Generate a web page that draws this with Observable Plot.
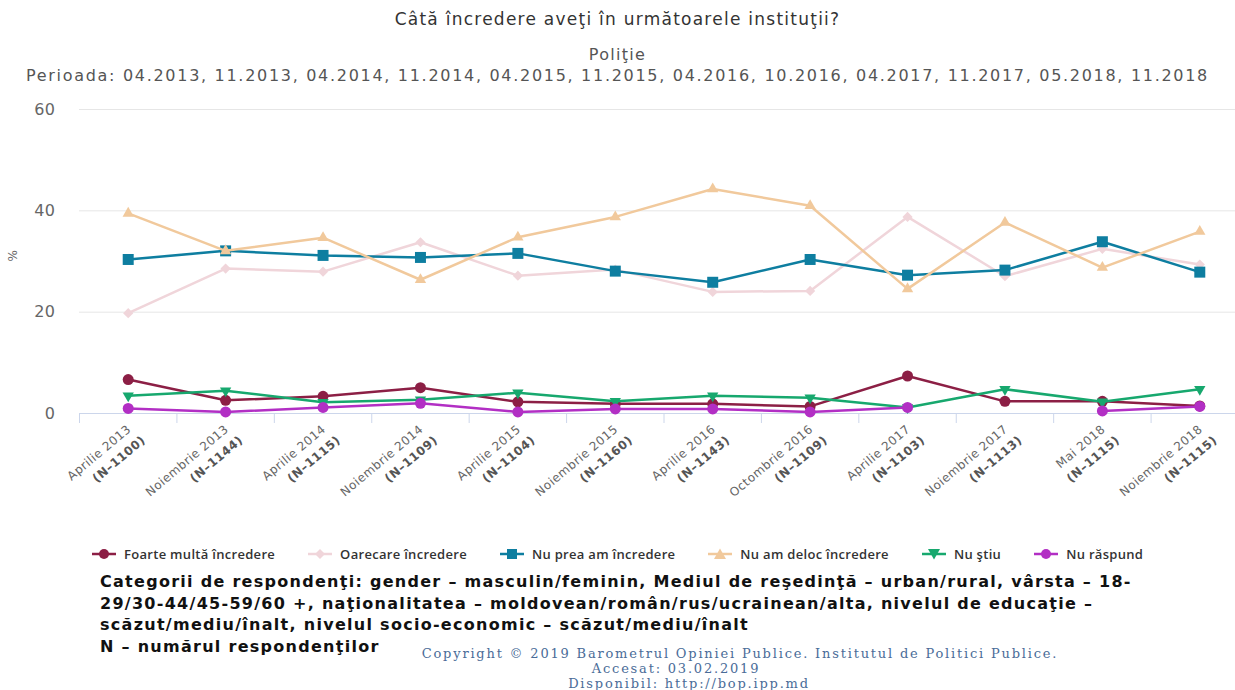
<!DOCTYPE html>
<html><head><meta charset="utf-8">
<script src="https://cdn.jsdelivr.net/npm/d3@7"></script>
<script src="https://cdn.jsdelivr.net/npm/@observablehq/plot@0.6"></script>
<style>
body{margin:0;background:#fff;width:1235px;height:690px;overflow:hidden;position:relative;font-family:"DejaVu Sans",sans-serif;}
.hd{position:absolute;left:0;width:1235px;text-align:center;white-space:nowrap;}
#title{top:8px;font-size:17px;color:#333;line-height:22px;letter-spacing:1.25px}
#sub1{top:45px;font-size:16px;color:#555;line-height:20px;letter-spacing:1.3px}
#sub2{top:66px;font-size:16px;color:#555;line-height:20px;letter-spacing:1.7px}
#chart{position:absolute;left:0;top:95px;width:1235px;height:445px;overflow:hidden}
#chart svg text{letter-spacing:0.5px}
#legend{position:absolute;left:92px;top:545px;display:flex;gap:33px;align-items:center;font-family:"Open Sans",sans-serif;font-weight:600;font-size:13px;letter-spacing:0.3px;color:#333;white-space:nowrap}
.li{display:flex;align-items:center;gap:8px}
#notes{position:absolute;left:100px;top:571px;font-weight:bold;font-size:16px;letter-spacing:1.28px;line-height:21.5px;color:#111;white-space:nowrap}
.cp{position:absolute;transform:translateX(-50%);font-family:"DejaVu Serif",serif;font-size:13px;letter-spacing:1.8px;color:#4a6c98;white-space:nowrap;line-height:15.2px}
</style></head><body>
<div class="hd" id="title">Câtă încredere aveţi în următoarele instituţii?</div>
<div class="hd" id="sub1">Poliţie</div>
<div class="hd" id="sub2">Perioada: 04.2013, 11.2013, 04.2014, 11.2014, 04.2015, 11.2015, 04.2016, 10.2016, 04.2017, 11.2017, 05.2018, 11.2018</div>
<div id="chart"></div>
<div id="legend"></div>
<div id="notes">Categorii de respondenţi: gender – masculin/feminin, Mediul de reşedinţă – urban/rural, vârsta – 18-<br>29/30-44/45-59/60 +, naţionalitatea – moldovean/român/rus/ucrainean/alta, nivelul de educaţie –<br>scăzut/mediu/înalt, nivelul socio-economic – scăzut/mediu/înalt<br>N – numărul respondenţilor</div>
<div class="cp" style="left:740px;top:646px">Copyright © 2019 Barometrul Opiniei Publice. Institutul de Politici Publice.</div>
<div class="cp" style="left:676px;top:661.2px">Accesat: 03.02.2019</div>
<div class="cp" style="left:689px;top:676.4px">Disponibil: http://bop.ipp.md</div>
<script>
const months = ["Aprilie 2013","Noiembrie 2013","Aprilie 2014","Noiembrie 2014","Aprilie 2015","Noiembrie 2015","Aprilie 2016","Octombrie 2016","Aprilie 2017","Noiembrie 2017","Mai 2018","Noiembrie 2018"];
const sampleN = ["(N–1100)","(N–1144)","(N–1115)","(N–1109)","(N–1104)","(N–1160)","(N–1143)","(N–1109)","(N–1103)","(N–1113)","(N–1115)","(N–1115)"];
const seriesNames = ["Foarte multă încredere","Oarecare încredere","Nu prea am încredere","Nu am deloc încredere","Nu ştiu","Nu răspund"];
const foarte    = [6.7,2.6,3.4,5.1,2.3,1.9,1.9,1.4,7.4,2.4,2.4,1.5];
const oarecare  = [19.8,28.6,28.0,33.8,27.2,28.4,24.0,24.2,38.8,27.1,32.5,29.4];
const nuPrea    = [30.4,32.1,31.2,30.8,31.6,28.1,25.9,30.4,27.3,28.3,33.9,27.9];
const deloc     = [39.5,32.1,34.7,26.4,34.8,38.8,44.3,41.0,24.6,37.7,28.8,35.9];
const nuStiu    = [3.5,4.5,2.2,2.7,4.1,2.4,3.5,3.1,1.2,4.8,2.3,4.8];
const nuRaspund = [1.0,0.3,1.2,2.0,0.3,0.9,0.9,0.3,1.2,null,0.5,1.4];
const yTicks = [0,20,40,60];
const yLabel = "%";

const seriesValues = [foarte, oarecare, nuPrea, deloc, nuStiu, nuRaspund];
const colors = ["#8c1f45","#f0d5da","#0e7ea0","#f1c99c","#17a86e","#b22fc4"];

const triangleDown = {
  draw(ctx, size) {
    const y = -Math.sqrt(size / (Math.sqrt(3) * 3));
    ctx.moveTo(0, -y * 2);
    ctx.lineTo(-Math.sqrt(3) * y, y);
    ctx.lineTo(Math.sqrt(3) * y, y);
    ctx.closePath();
  }
};
const symbols = ["circle","diamond2","square","triangle",triangleDown,"circle"];
const radii = [5.5,4.6,6.2,4.2,4.2,5.5];

const rows = [];
seriesValues.forEach((vals, s) => vals.forEach((v, i) => rows.push({i, s, v})));
const bounds = months.slice(0, months.length - 1).map((_, i) => i - 0.5).concat([months.length - 1.5]);

const marks = [
  Plot.ruleY(yTicks.filter(t => t > 0), {stroke: "#e6e6e6", strokeWidth: 1}),
  Plot.axisY({ticks: yTicks, tickSize: 0, tickPadding: 24, fontSize: 16, fill: "#666", label: null}),
  Plot.text([yLabel], {frameAnchor: "left", dx: -66, rotate: -90, fontSize: 12, fill: "#666"}),
  Plot.axisX({ticks: bounds, tickSize: 10, tickFormat: () => "", stroke: "#ccd6eb", label: null}),
  Plot.ruleY([0], {stroke: "#ccd6eb", strokeWidth: 1}),
  Plot.text(months, {x: (d, i) => i, y: () => 0, text: d => d, rotate: -40, textAnchor: "end", lineAnchor: "bottom", dx: 3.5, dy: 17, fontSize: 12, fill: "#666"}),
  Plot.text(sampleN, {x: (d, i) => i, y: () => 0, text: d => d, rotate: -40, textAnchor: "end", lineAnchor: "bottom", dx: 18, dy: 28, fontSize: 12, fontWeight: "bold", fill: "#555"})
];
seriesNames.forEach((name, s) => {
  const data = rows.filter(r => r.s === s);
  marks.push(Plot.line(data, {x: "i", y: "v", stroke: colors[s], strokeWidth: 2.5}));
  marks.push(Plot.dot(data, {x: "i", y: "v", fill: colors[s], r: radii[s], symbol: symbols[s]}));
});

const chart = Plot.plot({
  width: 1235, height: 445,
  marginLeft: 79, marginRight: 0, marginTop: 14, marginBottom: 127,
  x: {type: "linear", domain: [-0.5, 11.5], range: [79, 1248]},
  y: {domain: [0, 60]},
  style: {fontFamily: "DejaVu Sans", fontSize: "12px", color: "#666", background: "white"},
  marks
});
document.getElementById("chart").appendChild(chart);

// legend
const legend = document.getElementById("legend");
const shapes = [
  c => `<circle cx="12" cy="7" r="5" fill="${c}"/>`,
  c => `<path d="M12 2 L17 7 L12 12 L7 7 Z" fill="${c}"/>`,
  c => `<rect x="7" y="2" width="10" height="10" fill="${c}"/>`,
  c => `<path d="M12 1.5 L18 12 L6 12 Z" fill="${c}"/>`,
  c => `<path d="M6 2 L18 2 L12 12.5 Z" fill="${c}"/>`,
  c => `<circle cx="12" cy="7" r="5" fill="${c}"/>`
];
seriesNames.forEach((name, s) => {
  const item = document.createElement("div");
  item.className = "li";
  item.innerHTML = `<svg width="24" height="14"><line x1="0" x2="24" y1="7" y2="7" stroke="${colors[s]}" stroke-width="2.5"/>${shapes[s](colors[s])}</svg><span>${name}</span>`;
  legend.appendChild(item);
});
</script>
</body></html>
